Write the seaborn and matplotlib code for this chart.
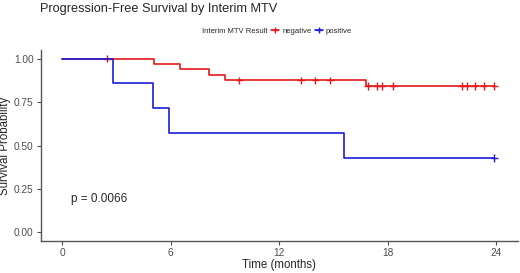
import matplotlib
matplotlib.use("Agg")
import matplotlib.pyplot as plt
from matplotlib.lines import Line2D
import seaborn as sns
import pandas as pd

sns.set_theme(style="ticks")
plt.rcParams['font.family'] = ['Liberation Sans', 'DejaVu Sans']

# Kaplan-Meier step data (time in months, survival probability)
neg_time = [0, 5.1, 6.5, 8.1, 9.0, 16.8, 23.9]
neg_surv = [1.0, 0.969, 0.938, 0.906, 0.875, 0.841, 0.841]
neg_cens_time = [2.5, 9.8, 13.2, 14.0, 14.8, 16.9, 17.4, 17.7, 18.3, 22.1, 22.4, 22.8, 23.3, 23.9]
neg_cens_surv = [1.0, 0.875, 0.875, 0.875, 0.875, 0.841, 0.841, 0.841, 0.841, 0.841, 0.841, 0.841, 0.841, 0.841]

pos_time = [0, 2.8, 5.0, 5.9, 15.6, 23.9]
pos_surv = [1.0, 0.857, 0.714, 0.571, 0.429, 0.429]
pos_cens_time = [23.9]
pos_cens_surv = [0.429]

groups = ["negative", "positive"]
colors = {"negative": "#E41A1C", "positive": "#1C1CD6"}
x_ticks = [0, 6, 12, 18, 24]
y_ticks = [0.00, 0.25, 0.50, 0.75, 1.00]
y_ticklabels = ["0.00", "0.25", "0.50", "0.75", "1.00"]

curves = pd.DataFrame({
    "time": neg_time + pos_time,
    "surv": neg_surv + pos_surv,
    "group": ["negative"] * len(neg_time) + ["positive"] * len(pos_time),
})
cens = pd.DataFrame({
    "time": neg_cens_time + pos_cens_time,
    "surv": neg_cens_surv + pos_cens_surv,
    "group": ["negative"] * len(neg_cens_time) + ["positive"] * len(pos_cens_time),
})

fig = plt.figure(figsize=(5.2, 2.73), dpi=100, facecolor="white")
ax = fig.add_axes([0.078, 0.117, 0.918, 0.70])
ax.set_facecolor("white")

sns.lineplot(data=curves, x="time", y="surv", hue="group", palette=colors,
             drawstyle="steps-post", estimator=None, linewidth=1.2,
             legend=False, ax=ax)
sns.scatterplot(data=cens, x="time", y="surv", hue="group", palette=colors,
                marker="+", s=30, linewidth=1.0, legend=False, ax=ax)

ax.set_xlim(-1.2, 25.2)
ax.set_ylim(-0.05, 1.05)
ax.set_xticks(x_ticks)
ax.set_yticks(y_ticks)
ax.set_yticklabels(y_ticklabels)
ax.tick_params(axis="both", labelsize=7.3, colors="#4D4D4D", length=3, width=0.8,
               pad=2, top=False, right=False)
for lab in ax.get_xticklabels() + ax.get_yticklabels():
    lab.set_color("#4D4D4D")
ax.grid(False)
for s in ["top", "right"]:
    ax.spines[s].set_visible(False)
for s in ["left", "bottom"]:
    ax.spines[s].set_color("#555555")
    ax.spines[s].set_linewidth(1.0)

ax.set_xlabel("Time (months)", fontsize=8.3, labelpad=1)
ax.set_ylabel("Survival Probability", fontsize=8.3, labelpad=2)

ax.text(0.5, 0.19, "p = 0.0066", fontsize=8.5, va="center", ha="left")

fig.text(0.077, 0.99, "Progression-Free Survival by Interim MTV", fontsize=9.2,
         ha="left", va="top")

fig.text(0.515, 0.886, "Interim MTV Result", fontsize=5.5, ha="right", va="center")
handles = [Line2D([0], [0], color=colors[g], marker="+", markersize=5, linewidth=1.2)
           for g in groups]
fig.legend(handles, groups, loc="center left", bbox_to_anchor=(0.522, 0.886),
           ncol=2, frameon=False, fontsize=5.5, handlelength=1.0,
           handletextpad=0.4, columnspacing=0.5, borderpad=0, borderaxespad=0)

fig.savefig("out.png", dpi=100, facecolor="white")
